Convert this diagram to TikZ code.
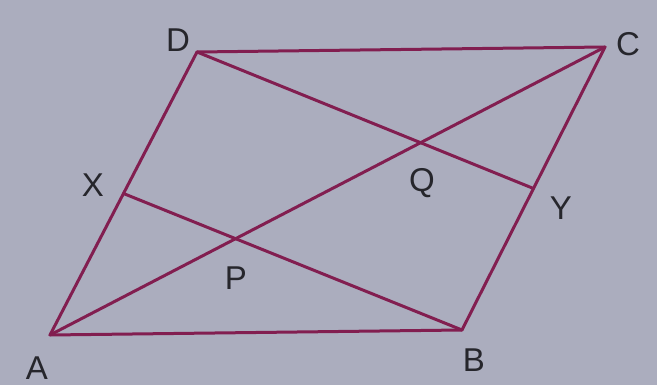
\documentclass[tikz,border=0pt]{standalone}
\usepackage{fontspec}
\setmainfont{Liberation Sans}
\usetikzlibrary{calc,intersections}
\definecolor{paper}{RGB}{171,173,190}
\definecolor{edgeline}{RGB}{130,30,80}
\definecolor{labelink}{RGB}{38,38,44}
\tikzset{
  side/.style={draw=edgeline, line width=3pt, line join=round, line cap=round},
  vlabel/.style={text=labelink, font=\fontsize{33}{33}\selectfont, inner sep=0pt},
}

\begin{document}
\begin{tikzpicture}[x=1pt, y=-1pt]
  \fill[paper] (0,0) rectangle (657,385);
  \useasboundingbox (0,0) rectangle (657,385);

  \coordinate (A) at (50,335);
  \coordinate (B) at (462,330);
  \coordinate (C) at (605,47);
  \coordinate (D) at (197,52);
  \coordinate (X) at ($(A)!0.5!(D)$);
  \coordinate (Y) at ($(B)!0.5!(C)$);

  \path[name path=diagAC] (A) -- (C);
  \path[name path=lineXB] (X) -- (B);
  \path[name path=lineDY] (D) -- (Y);
  \path[name intersections={of=diagAC and lineXB, by=P}];
  \path[name intersections={of=diagAC and lineDY, by=Q}];

  \draw[side] (A) -- (B) -- (C) -- (D) -- cycle;
  \draw[side] (A) -- (C);
  \draw[side] (X) -- (B);
  \draw[side] (D) -- (Y);

  \node[vlabel] (labA) at (37,368) {A};
  \node[vlabel] (labB) at (474,360) {B};
  \node[vlabel] (labC) at (628,44) {C};
  \node[vlabel] (labD) at (178,40) {D};
  \node[vlabel] (labX) at (93,185) {X};
  \node[vlabel] (labY) at (561,208) {Y};
  \node[vlabel] (labP) at (236,278) {P};
  \node[vlabel] (labQ) at (422,183) {Q};
\end{tikzpicture}
\end{document}
